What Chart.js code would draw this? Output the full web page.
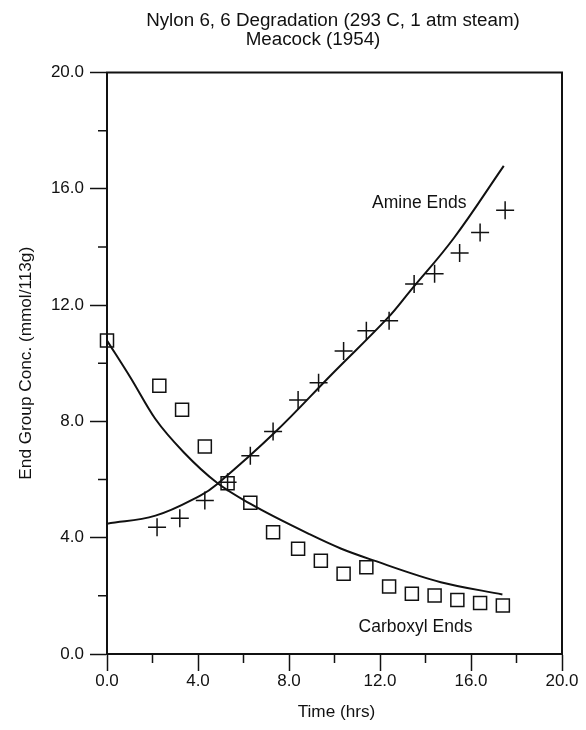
<!DOCTYPE html>
<html lang="en">
<head>
  <meta charset="UTF-8">
  <title>Nylon 6,6 Degradation</title>
  <script src="https://cdn.jsdelivr.net/npm/chart.js"></script>
  <style>
    body { margin: 0; background: #fff; }
    #chart { display: block; }
  </style>
</head>
<body>

<canvas id="chart" width="586" height="730"></canvas>

<script>
  // Measured end groups (mmol/113g) vs time (hrs)
  const amineTime = [2.2, 3.2, 4.3, 5.3, 6.3, 7.3, 8.4, 9.3, 10.4, 11.4, 12.4, 13.5, 14.4, 15.5, 16.4, 17.5];
  const amineObs = [4.36, 4.67, 5.28, 5.91, 6.82, 7.65, 8.74, 9.33, 10.42, 11.12, 11.46, 12.73, 13.08, 13.79, 14.50, 15.26];

  const carboxylTime = [0, 2.3, 3.3, 4.3, 5.3, 6.3, 7.3, 8.4, 9.4, 10.4, 11.4, 12.4, 13.4, 14.4, 15.4, 16.4, 17.4];
  const carboxylObs = [10.78, 9.23, 8.40, 7.14, 5.87, 5.20, 4.19, 3.62, 3.21, 2.76, 2.98, 2.32, 2.07, 2.01, 1.86, 1.75, 1.67];

  // Model curves
  const amineFitTime = [0, 2.13, 4.1, 4.85, 7.35, 9.98, 12.33, 13.34, 15.24, 17.44];
  const amineFit = [4.48, 4.76, 5.45, 5.85, 7.6, 9.7, 11.55, 12.5, 14.3, 16.79];

  const carboxylFitTime = [0, 1.03, 2.12, 3.37, 4.85, 6.31, 8.9, 10.3, 11.75, 14.67, 17.38];
  const carboxylFit = [10.78, 9.51, 8.09, 6.94, 5.88, 5.16, 4.12, 3.62, 3.21, 2.47, 2.05];

  const xTicks = [0, 4, 8, 12, 16, 20];
  const yTicks = [0, 4, 8, 12, 16, 20];
  const minorTicks = [2, 6, 10, 14, 18];

  const titleLines = ['Nylon 6, 6 Degradation (293 C, 1 atm steam)', 'Meacock (1954)'];
  const xTitle = 'Time (hrs)';
  const yTitle = 'End Group Conc. (mmol/113g)';

  const ink = '#111';
  const font = '"Liberation Sans", Arial, Helvetica, sans-serif';

  const pts = (xs, ys) => xs.map((x, i) => ({ x: x, y: ys[i] }));

  // frame, minor ticks, titles and curve labels
  const decor = {
    id: 'decor',
    afterDraw(chart) {
      const { ctx, chartArea: a, scales: { x, y } } = chart;
      ctx.save();
      ctx.strokeStyle = ink;
      ctx.lineWidth = 2;
      ctx.strokeRect(a.left, a.top, a.right - a.left, a.bottom - a.top);

      ctx.lineWidth = 1.5;
      ctx.beginPath();
      minorTicks.forEach(v => {
        const px = x.getPixelForValue(v);
        ctx.moveTo(px, a.bottom);
        ctx.lineTo(px, a.bottom + 9);
        const py = y.getPixelForValue(v);
        ctx.moveTo(a.left - 9, py);
        ctx.lineTo(a.left, py);
      });
      ctx.stroke();

      ctx.fillStyle = ink;
      ctx.textBaseline = 'middle';
      ctx.textAlign = 'center';
      ctx.font = '18.8px ' + font;
      ctx.fillText(titleLines[0], 333, 21);
      ctx.fillText(titleLines[1], 313, 40);

      ctx.font = '17.2px ' + font;
      ctx.fillText(xTitle, (a.left + a.right) / 2 + 2, 712);
      ctx.save();
      ctx.translate(26, (a.top + a.bottom) / 2);
      ctx.rotate(-Math.PI / 2);
      ctx.fillText(yTitle, 0, 0);
      ctx.restore();

      ctx.font = '17.5px ' + font;
      ctx.textAlign = 'left';
      ctx.fillText('Amine Ends', x.getPixelForValue(11.65), y.getPixelForValue(15.5));
      ctx.fillText('Carboxyl Ends', x.getPixelForValue(11.06), y.getPixelForValue(0.93));
      ctx.restore();
    }
  };

  const axisCommon = {
    type: 'linear',
    min: 0,
    max: 20,
    grid: {
      drawOnChartArea: false,
      drawTicks: true,
      tickLength: 17,
      tickColor: ink,
      tickWidth: 1.5
    },
    border: { display: true, color: ink, width: 2 },
    title: { display: false }
  };

  new Chart(document.getElementById('chart'), {
    type: 'scatter',
    data: {
      datasets: [
        {
          label: 'Amine fit',
          type: 'line',
          data: pts(amineFitTime, amineFit),
          borderColor: ink,
          borderWidth: 2,
          pointRadius: 0,
          tension: 0.4,
          fill: false
        },
        {
          label: 'Carboxyl fit',
          type: 'line',
          data: pts(carboxylFitTime, carboxylFit),
          borderColor: ink,
          borderWidth: 2,
          pointRadius: 0,
          cubicInterpolationMode: 'monotone',
          fill: false
        },
        {
          label: 'Amine Ends',
          data: pts(amineTime, amineObs),
          pointStyle: 'cross',
          pointRadius: 9,
          borderColor: ink,
          borderWidth: 1.5,
          clip: false
        },
        {
          label: 'Carboxyl Ends',
          data: pts(carboxylTime, carboxylObs),
          pointStyle: 'rect',
          pointRadius: 9.2,
          borderColor: ink,
          backgroundColor: 'rgba(0,0,0,0)',
          borderWidth: 1.5,
          clip: false
        }
      ]
    },
    options: {
      responsive: false,
      animation: false,
      layout: { padding: { top: 72.5, right: 24, left: 0, bottom: 0 } },
      plugins: {
        legend: { display: false },
        title: { display: false },
        tooltip: { enabled: false }
      },
      scales: {
        x: Object.assign({}, axisCommon, {
          position: 'bottom',
          afterFit(scale) { scale.height = 76; },
          afterBuildTicks(scale) { scale.ticks = xTicks.map(v => ({ value: v })); },
          ticks: {
            color: ink,
            padding: 0,
            maxRotation: 0,
            font: { family: font, size: 17 },
            callback: v => Number(v).toFixed(1)
          }
        }),
        y: Object.assign({}, axisCommon, {
          position: 'left',
          afterFit(scale) { scale.width = 107; },
          afterBuildTicks(scale) { scale.ticks = yTicks.map(v => ({ value: v })); },
          ticks: {
            color: ink,
            padding: 6,
            font: { family: font, size: 17 },
            callback: v => Number(v).toFixed(1)
          }
        })
      }
    },
    plugins: [decor]
  });
</script>

</body>
</html>
